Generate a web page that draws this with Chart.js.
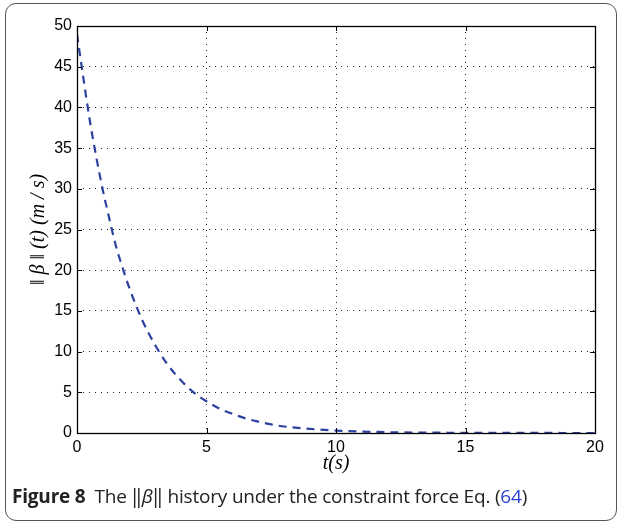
<!DOCTYPE html>
<html>
<head>
<meta charset="utf-8">
<script src="https://cdn.jsdelivr.net/npm/chart.js@4"></script>
<style>
    html, body { margin: 0; padding: 0; background: #fff; }
    #wrap { position: relative; width: 622px; height: 526px; }
    #frame {
        position: absolute; left: 5px; top: 3px; width: 612px; height: 518px;
        border: 1px solid #555; border-radius: 11px; box-sizing: border-box;
    }
    #chart { position: absolute; left: 0; top: 0; }
    #caption {
        position: absolute; left: 12px; top: 483px; white-space: nowrap;
        font-family: "Open Sans", "Noto Sans", sans-serif; font-size: 19px; color: #222;
        letter-spacing: -0.2px;
    }
    #caption b { font-weight: 700; margin-right: 9px; }
    #caption .ref { color: #2b3fd6; }
</style>
</head>
<body>
<div id="wrap">
    <div id="frame"></div>
    <canvas id="chart" width="622" height="526"></canvas>
    <div id="caption"><b>Figure 8</b>The ‖<i>β</i>‖ history under the constraint force Eq. (<span class="ref">64</span>)</div>
</div>
<script>
// Données : t (s) et ||beta||(t) (m/s)
const timeValues = [0, 0.25, 0.5, 0.75, 1, 1.25, 1.5, 1.75, 2, 2.5, 3, 3.5, 4, 4.5, 5, 5.5, 6, 6.5, 7, 7.5, 8, 9, 10, 11, 12, 13, 14, 15, 16, 17, 18, 19, 20];
const betaNorm = [49, 43.5, 38.3, 33.8, 29.8, 26.3, 23.0, 20.4, 18.0, 14.0, 10.9, 8.4, 6.5, 5.0, 3.9, 3.0, 2.35, 1.8, 1.4, 1.05, 0.8, 0.5, 0.3, 0.18, 0.1, 0.06, 0.04, 0.02, 0.01, 0.01, 0.01, 0, 0];
const xTicks = [0, 5, 10, 15, 20];
const yTicks = [0, 5, 10, 15, 20, 25, 30, 35, 40, 45, 50];

const points = timeValues.map((t, i) => ({ x: t, y: betaNorm[i] }));

// Cadre noir + graduations vers l'intérieur (style MATLAB)
const boxPlugin = {
    id: 'matlabBox',
    afterDraw(chart) {
        const { ctx, chartArea: a, scales } = chart;
        ctx.save();
        ctx.strokeStyle = '#000';
        ctx.lineWidth = 1;
        const len = 5;
        ctx.beginPath();
        xTicks.forEach(v => {
            const px = Math.round(scales.x.getPixelForValue(v)) + 0.5;
            ctx.moveTo(px, a.bottom); ctx.lineTo(px, a.bottom - len);
            ctx.moveTo(px, a.top); ctx.lineTo(px, a.top + len);
        });
        yTicks.forEach(v => {
            const py = Math.round(scales.y.getPixelForValue(v)) + 0.5;
            ctx.moveTo(a.left, py); ctx.lineTo(a.left + len, py);
            ctx.moveTo(a.right, py); ctx.lineTo(a.right - len, py);
        });
        ctx.stroke();
        ctx.lineWidth = 1.3;
        ctx.strokeRect(Math.round(a.left) + 0.5, Math.round(a.top) + 0.5, Math.round(a.right - a.left), Math.round(a.bottom - a.top));
        ctx.restore();
    }
};

const gridOpts = {
    color: '#222',
    lineWidth: 1,
    drawTicks: false,
    borderDash: [1, 5]
};

new Chart(document.getElementById('chart'), {
    type: 'line',
    data: {
        datasets: [{
            data: points,
            borderColor: '#2d41a0',
            borderWidth: 2.2,
            borderDash: [8, 6],
            pointRadius: 0,
            fill: false,
            cubicInterpolationMode: 'monotone'
        }]
    },
    options: {
        responsive: false,
        animation: false,
        layout: { padding: { left: 0, top: 26, right: 27, bottom: 48 } },
        plugins: { legend: { display: false }, tooltip: { enabled: false } },
        scales: {
            x: {
                type: 'linear', min: 0, max: 20,
                afterFit: s => { s.height = 45; },
                border: { display: false, dash: [1, 5] },
                grid: gridOpts,
                ticks: {
                    stepSize: 5, padding: 5, color: '#000', maxRotation: 0,
                    font: { family: '"Liberation Sans", Arial, sans-serif', size: 16 }
                },
                title: {
                    display: true, text: 't(s)', color: '#000',
                    padding: { top: 0, bottom: 2 },
                    font: { family: '"Liberation Serif", "DejaVu Serif", serif', size: 20, style: 'italic' }
                }
            },
            y: {
                min: 0, max: 50,
                afterFit: s => { s.width = 77; },
                border: { display: false, dash: [1, 5] },
                grid: gridOpts,
                ticks: {
                    stepSize: 5, padding: 5, color: '#000',
                    font: { family: '"Liberation Sans", Arial, sans-serif', size: 16 }
                },
                title: {
                    display: true, text: '‖ β ‖ (t) (m / s)', color: '#000',
                    padding: { top: 27, bottom: 0 },
                    font: { family: '"Liberation Serif", "DejaVu Serif", serif', size: 20, style: 'italic' }
                }
            }
        }
    },
    plugins: [boxPlugin]
});
</script>
</body>
</html>
